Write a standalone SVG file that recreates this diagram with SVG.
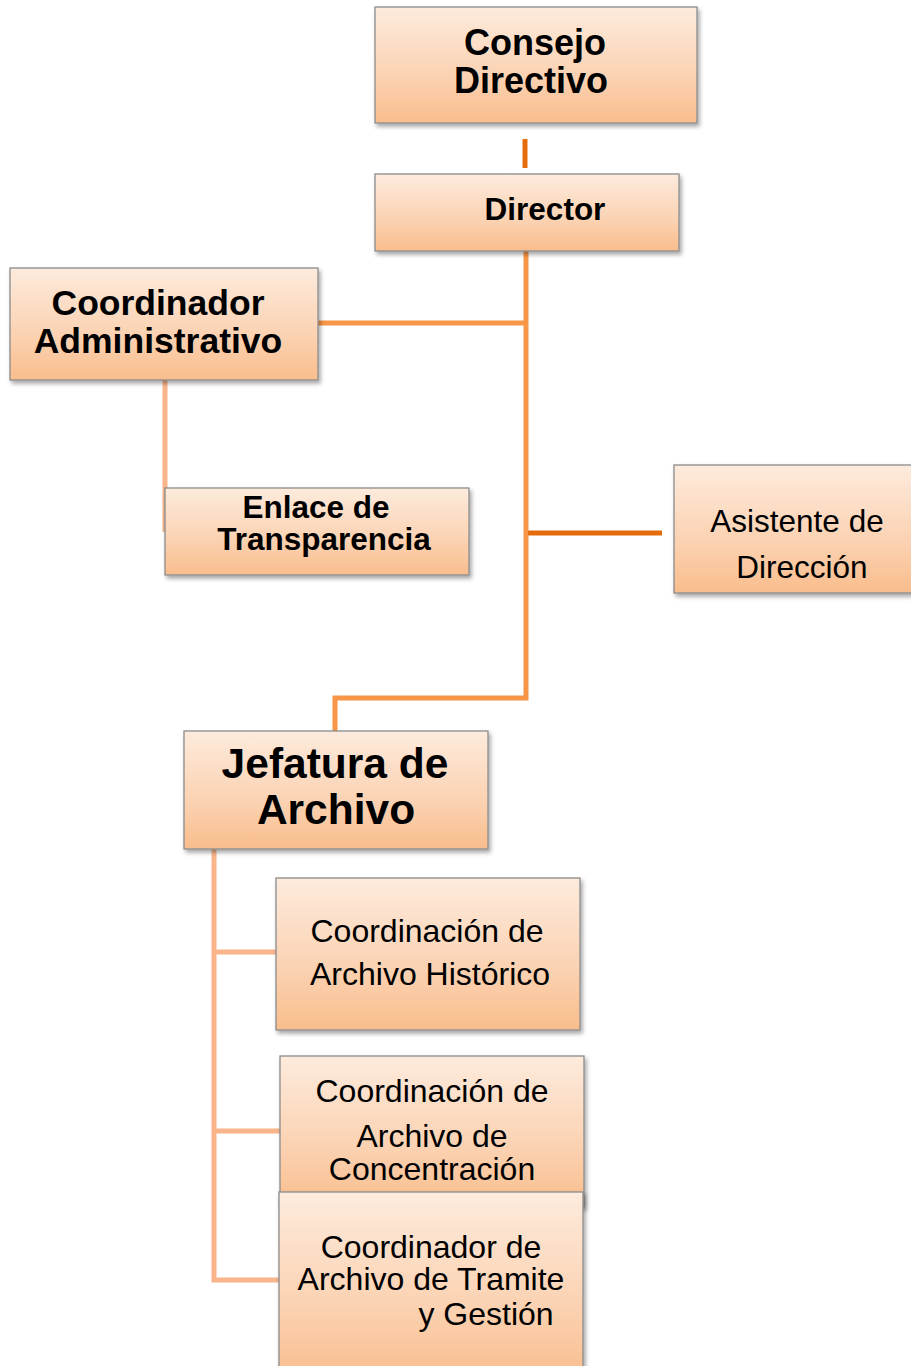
<svg xmlns="http://www.w3.org/2000/svg" width="911" height="1366" viewBox="0 0 911 1366">
<defs>
<linearGradient id="g" x1="0" y1="0" x2="0" y2="1">
<stop offset="0" stop-color="#FDEBDD"/>
<stop offset="0.6" stop-color="#FBD2B2"/>
<stop offset="1" stop-color="#F9BD8C"/>
</linearGradient>
<filter id="sh" x="-10%" y="-10%" width="125%" height="130%">
<feDropShadow dx="2" dy="3" stdDeviation="2" flood-color="#000" flood-opacity="0.35"/>
</filter>
</defs>
<style>
.box{fill:url(#g);stroke:#8C8C8C;stroke-width:1.3;filter:url(#sh)}
.b{font-family:"Liberation Sans",Arial,sans-serif;font-weight:bold;fill:#000;text-anchor:middle}
.r{font-family:"Liberation Sans",Arial,sans-serif;fill:#000;text-anchor:middle}
.main{fill:none;stroke:#F79646;stroke-width:5}
.dark{fill:none;stroke:#E46C0A;stroke-width:5}
.light{fill:none;stroke:#F9B48A;stroke-width:5}
</style>
<g id="connectors">
<line class="dark" x1="525" y1="139" x2="525" y2="168"/>
<polyline class="main" points="526,251 526,698 335,698 335,731"/>
<line class="main" x1="318" y1="323" x2="526" y2="323"/>
<line class="dark" x1="528" y1="533" x2="662" y2="533"/>
<line class="light" x1="165" y1="380" x2="165" y2="532"/>
<polyline class="light" points="214,849 214,1280 279,1280"/>
<line class="light" x1="214" y1="952" x2="276" y2="952"/>
<line class="light" x1="214" y1="1131" x2="280" y2="1131"/>
</g>
<g id="consejo">
<rect class="box" x="375" y="7" width="322" height="116"/>
<text class="b" font-size="36" x="535" y="55">Consejo</text>
<text class="b" font-size="36" x="531" y="93">Directivo</text>
</g>
<g id="director">
<rect class="box" x="375" y="174" width="304" height="77"/>
<text class="b" font-size="31.5" x="545" y="220">Director</text>
</g>
<g id="coord-admin">
<rect class="box" x="10" y="268" width="308" height="112"/>
<text class="b" font-size="35.5" x="158" y="315">Coordinador</text>
<text class="b" font-size="35.5" x="158" y="353">Administrativo</text>
</g>
<g id="enlace">
<rect class="box" x="165" y="488" width="304" height="87"/>
<text class="b" font-size="31.5" x="316" y="518">Enlace de</text>
<text class="b" font-size="31.5" x="324" y="550">Transparencia</text>
</g>
<g id="asistente">
<rect class="box" x="674" y="465" width="250" height="128"/>
<text class="r" font-size="31.5" x="797" y="532">Asistente de</text>
<text class="r" font-size="31.5" x="802" y="578">Dirección</text>
</g>
<g id="jefatura">
<rect class="box" x="184" y="731" width="304" height="118"/>
<text class="b" font-size="42.5" x="335" y="778">Jefatura de</text>
<text class="b" font-size="42.5" x="336" y="824">Archivo</text>
</g>
<g id="historico">
<rect class="box" x="276" y="878" width="304" height="152"/>
<text class="r" font-size="32" x="427" y="942">Coordinación de</text>
<text class="r" font-size="32" x="430" y="985">Archivo Histórico</text>
</g>
<g id="concentracion">
<rect class="box" x="280" y="1056" width="304" height="151"/>
<text class="r" font-size="32" x="432" y="1102">Coordinación de</text>
<text class="r" font-size="32" x="432" y="1147">Archivo de</text>
<text class="r" font-size="32" x="432" y="1180">Concentración</text>
</g>
<g id="tramite">
<rect class="box" x="279" y="1192" width="304" height="190"/>
<text class="r" font-size="32" x="431" y="1258">Coordinador de</text>
<text class="r" font-size="32" x="431" y="1290">Archivo de Tramite</text>
<text class="r" font-size="32" x="486" y="1325">y Gestión</text>
</g>
</svg>
